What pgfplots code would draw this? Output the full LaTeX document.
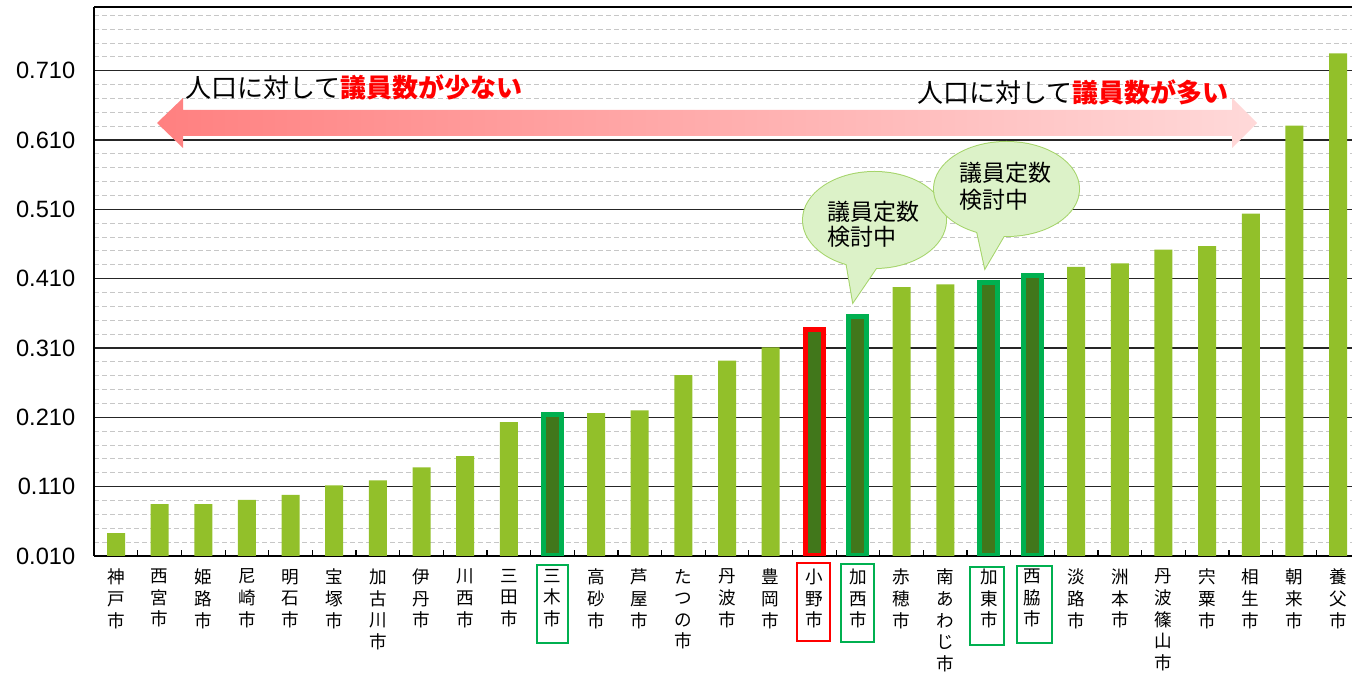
\documentclass[border=0pt]{standalone}
\usepackage{pgfplots}
\pgfplotsset{compat=1.18}
\usepackage{fontspec}
\setmainfont{Liberation Sans}
\newfontfamily\cjk{Noto Sans CJK JP}
\definecolor{barG}{HTML}{92C02A}
\definecolor{darkG}{HTML}{41771B}
\definecolor{outG}{HTML}{00B050}
\definecolor{arrL}{HTML}{FF8080}
\definecolor{arrR}{HTML}{FFD9D9}
\definecolor{bubF}{HTML}{DCF2C8}
\definecolor{bubD}{HTML}{A5D46A}
\begin{document}
\begin{tikzpicture}
\begin{axis}[
  scale only axis, width=628.9pt, height=274.5pt,
  xmin=-0.5, xmax=28.32, ymin=0.010, ymax=0.802,
  axis x line*=bottom, axis y line*=left,
  axis line style={line width=1.3pt, -},
  ytick={0.01,0.11,0.21,0.31,0.41,0.51,0.61,0.71},
  yticklabels={0.010,0.110,0.210,0.310,0.410,0.510,0.610,0.710},
  minor ytick={0.03,0.05,0.07,0.09,0.13,0.15,0.17,0.19,0.23,0.25,0.27,0.29,0.33,0.35,0.37,0.39,0.43,0.45,0.47,0.49,0.53,0.55,0.57,0.59,0.63,0.65,0.67,0.69,0.73,0.75,0.77,0.79},
  ymajorgrids, yminorgrids,
  major grid style={black!85, line width=0.6pt},
  minor grid style={black!22, dash pattern=on 2.5pt off 1.5pt, line width=0.5pt},
  ytick style={draw=none},
  yticklabel style={font=\fontsize{11.8}{14}\selectfont, xshift=-6pt},
  xtick={0,...,28},
  xticklabels={{神\\戸\\市},{西\\宮\\市},{姫\\路\\市},{尼\\崎\\市},{明\\石\\市},{宝\\塚\\市},{加\\古\\川\\市},{伊\\丹\\市},{川\\西\\市},{三\\田\\市},{三\\木\\市},{高\\砂\\市},{芦\\屋\\市},{た\\つ\\の\\市},{丹\\波\\市},{豊\\岡\\市},{小\\野\\市},{加\\西\\市},{赤\\穂\\市},{南\\あ\\わ\\じ\\市},{加\\東\\市},{西\\脇\\市},{淡\\路\\市},{洲\\本\\市},{丹\\波\\篠\\山\\市},{宍\\粟\\市},{相\\生\\市},{朝\\来\\市},{養\\父\\市}},
  xtick style={draw=none},
  xticklabel style={font=\cjk\fontsize{8.8}{10.8}\selectfont, align=center, anchor=north, yshift=-3pt},
  extra x ticks={0.5,1.5,2.5,3.5,4.5,5.5,6.5,7.5,8.5,9.5,10.5,11.5,12.5,13.5,14.5,15.5,16.5,17.5,18.5,19.5,20.5,21.5,22.5,23.5,24.5,25.5,26.5,27.5},
  extra x tick labels={},
  extra x tick style={xtick style={draw=black, line width=0.6pt}, major tick length=3pt, tick align=inside},
]
\addplot[ybar, bar width=9pt, bar shift=0pt, fill=barG, draw=none] coordinates {
(0,0.043) (1,0.085) (2,0.085) (3,0.091) (4,0.098) (5,0.112) (6,0.119) (7,0.138) (8,0.154) (9,0.203)
(11,0.216) (12,0.220) (13,0.271) (14,0.292) (15,0.311) (18,0.398) (19,0.402)
(22,0.427) (23,0.432) (24,0.452) (25,0.457) (26,0.504) (27,0.631) (28,0.735)};
\addplot[ybar, bar width=9pt, bar shift=0pt, fill=darkG, draw=outG, line width=2.5pt] coordinates {
(10,0.214) (17,0.355) (20,0.404) (21,0.414)};
\addplot[ybar, bar width=9pt, bar shift=0pt, fill=darkG, draw=red, line width=2.5pt] coordinates {
(16,0.337)};
\coordinate (TL) at (rel axis cs:0,1);
\draw[line width=1.2pt] (rel axis cs:0,1) -- (rel axis cs:1,1);
\end{axis}
\begin{scope}[shift={([xshift=-47.1pt,yshift=3.5pt]TL)}, x=0.5pt, y=-0.5pt]
\pgfresetboundingbox
\useasboundingbox (0,0) rectangle (1352,673);
% double arrow
\shade[left color=arrL, right color=arrR] (157,123) -- (183,98) -- (183,110) -- (1232,110) -- (1232,98) -- (1257,123) -- (1232,148) -- (1232,136) -- (183,136) -- (183,148) -- cycle;
\node[anchor=west, inner sep=0pt, font=\cjk\fontsize{13}{15}\selectfont] at (185,87) {人口に対して\textcolor{red}{\bfseries 議員数が少ない}};
\node[anchor=west, inner sep=0pt, font=\cjk\fontsize{13}{15}\selectfont] at (917,92) {人口に対して\textcolor{red}{\bfseries 議員数が多い}};
% bubble 1
\draw[bubD, line width=1pt] (874.5,220) ellipse [x radius=71.5, y radius=48];
\draw[bubD, line width=1pt] (845,255) -- (853,302) -- (885,255);
\fill[bubF] (874.5,220) ellipse [x radius=71.5, y radius=48];
\fill[bubF] (845,255) -- (853,302) -- (885,255) -- cycle;
\node[anchor=west, align=left, inner sep=0pt, font=\cjk\fontsize{11.5}{12.8}\selectfont] at (827,224.5) {議員定数\\検討中};
% bubble 2
\draw[bubD, line width=1pt] (1006.5,189) ellipse [x radius=72.5, y radius=47];
\draw[bubD, line width=1pt] (975,222) -- (985,268) -- (1012,222);
\fill[bubF] (1006.5,189) ellipse [x radius=72.5, y radius=47];
\fill[bubF] (975,222) -- (985,268) -- (1012,222) -- cycle;
\node[anchor=west, align=left, inner sep=0pt, font=\cjk\fontsize{11.5}{13.3}\selectfont] at (959,186.5) {議員定数\\検討中};
% label boxes
\draw[outG, line width=1.1pt] (537,565) rectangle (568,643);
\draw[red, line width=1.1pt] (797,563) rectangle (830,641);
\draw[outG, line width=1.1pt] (841,564) rectangle (874,642);
\draw[outG, line width=1.1pt] (970,567) rectangle (1004,645);
\draw[outG, line width=1.1pt] (1017,566) rectangle (1052,643);
\end{scope}
\end{tikzpicture}
\end{document}
